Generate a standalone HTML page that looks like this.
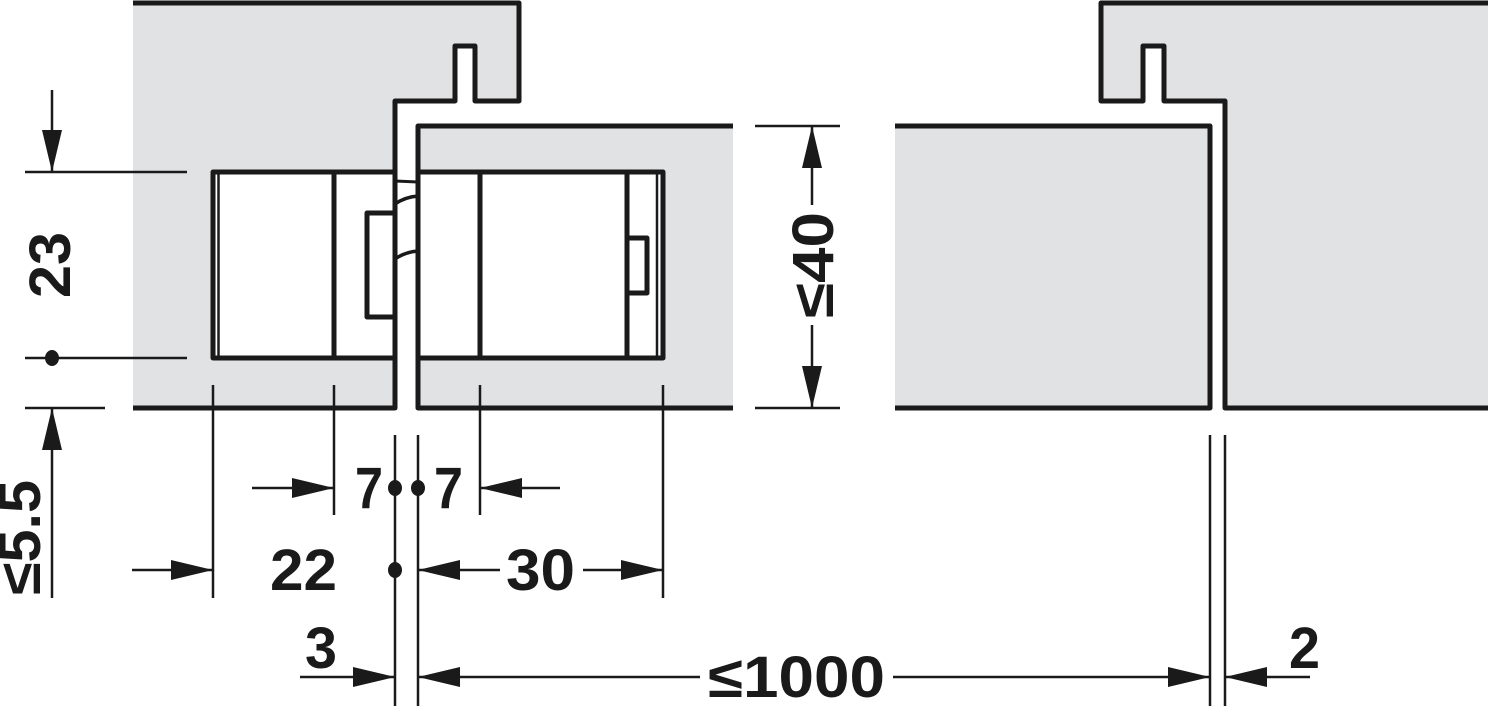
<!DOCTYPE html>
<html><head><meta charset="utf-8"><style>
html,body{margin:0;padding:0;background:#fff;}
svg{display:block;}
text{font-family:"Liberation Sans",sans-serif;font-size:58px;font-weight:bold;fill:#1a1a1a;}
</style></head><body>
<svg width="1488" height="706" viewBox="0 0 1488 706" xmlns="http://www.w3.org/2000/svg">
<defs>
<marker id="a" viewBox="0 0 42 22" refX="42" refY="11" markerWidth="42" markerHeight="22" markerUnits="userSpaceOnUse" orient="auto">
<path d="M0,1 L42,11 L0,21 Z" fill="#1a1a1a"/></marker>
</defs>
<g fill="#e1e2e4" stroke="none">
<path d="M133,3 H519 V101 H475 V46 H455 V101 H395 V408 H133 Z"/>
<rect x="418" y="126" width="315" height="282"/>
<rect x="895" y="126" width="315" height="282"/>
<path d="M1101,3 H1488 V408 H1225 V101 H1164 V46 H1143 V101 H1101 Z"/>
</g>
<g fill="none" stroke="#1a1a1a" stroke-width="5" stroke-linejoin="round">
<path d="M133,3 H519 V101 H475 V46 H455 V101 H395 V408 H133"/>
<path d="M733,126 H418 V408 H733"/>
<path d="M895,126 H1210 V408 H895"/>
<path d="M1488,3 H1101 V101 H1143 V46 H1164 V101 H1225 V408 H1488"/>
</g>
<g stroke="#1a1a1a" stroke-width="5" fill="#fff" stroke-linejoin="round">
<rect x="213" y="172" width="182" height="186"/>
<rect x="418" y="172" width="245" height="186"/>
<rect x="367" y="213" width="28" height="104"/>
<rect x="627" y="238" width="20" height="55"/>
</g>
<g stroke="#1a1a1a" stroke-width="5" fill="none">
<line x1="334" y1="172" x2="334" y2="358"/>
<line x1="480" y1="172" x2="480" y2="358"/>
<line x1="627" y1="172" x2="627" y2="358"/>
<line x1="218.5" y1="172" x2="218.5" y2="358" stroke-width="2.5"/>
<line x1="657" y1="172" x2="657" y2="358" stroke-width="2.5"/>
<line x1="395" y1="181" x2="418" y2="182" stroke-width="3"/>
<path d="M395,204 Q405,197 418,196" stroke-width="3.5"/>
<path d="M395,259 Q405,252 418,251" stroke-width="3.5"/>
</g>
<g stroke="#1a1a1a" stroke-width="2.5" fill="none">
<line x1="25" y1="172" x2="187" y2="172"/>
<line x1="25" y1="358" x2="187" y2="358"/>
<line x1="25" y1="408" x2="105" y2="408"/>
<line x1="52" y1="90" x2="52" y2="172" marker-end="url(#a)"/>
<line x1="52" y1="598" x2="52" y2="408" marker-end="url(#a)"/>
<line x1="755" y1="126" x2="840" y2="126"/>
<line x1="755" y1="408" x2="840" y2="408"/>
<line x1="812" y1="205" x2="812" y2="126" marker-end="url(#a)"/>
<line x1="812" y1="325" x2="812" y2="408" marker-end="url(#a)"/>
<line x1="213" y1="385" x2="213" y2="598"/>
<line x1="334" y1="385" x2="334" y2="515"/>
<line x1="480" y1="385" x2="480" y2="515"/>
<line x1="663" y1="385" x2="663" y2="598"/>
<line x1="395" y1="435" x2="395" y2="706"/>
<line x1="418" y1="435" x2="418" y2="706"/>
<line x1="1210" y1="435" x2="1210" y2="706"/>
<line x1="1225" y1="435" x2="1225" y2="706"/>
<line x1="252" y1="488" x2="334" y2="488" marker-end="url(#a)"/>
<line x1="560" y1="488" x2="480" y2="488" marker-end="url(#a)"/>
<line x1="132" y1="570" x2="213" y2="570" marker-end="url(#a)"/>
<line x1="500" y1="570" x2="418" y2="570" marker-end="url(#a)"/>
<line x1="583" y1="570" x2="663" y2="570" marker-end="url(#a)"/>
<line x1="300" y1="677" x2="395" y2="677" marker-end="url(#a)"/>
<line x1="700" y1="677" x2="418" y2="677" marker-end="url(#a)"/>
<line x1="893" y1="677" x2="1210" y2="677" marker-end="url(#a)"/>
<line x1="1310" y1="677" x2="1225" y2="677" marker-end="url(#a)"/>
</g>
<g fill="#1a1a1a">
<ellipse cx="52" cy="358" rx="7" ry="8"/>
<ellipse cx="395" cy="488" rx="7" ry="8"/>
<ellipse cx="418" cy="488" rx="7" ry="8"/>
<ellipse cx="395" cy="570" rx="7" ry="8"/>
</g>
<text x="355" y="508" textLength="28" lengthAdjust="spacingAndGlyphs">7</text>
<text x="434" y="508" textLength="29" lengthAdjust="spacingAndGlyphs">7</text>
<text x="270" y="590" textLength="67" lengthAdjust="spacingAndGlyphs">22</text>
<text x="506" y="590" textLength="69" lengthAdjust="spacingAndGlyphs">30</text>
<text x="305" y="668" textLength="32" lengthAdjust="spacingAndGlyphs">3</text>
<text x="1289" y="668" textLength="31" lengthAdjust="spacingAndGlyphs">2</text>
<text x="708" y="697" textLength="177" lengthAdjust="spacingAndGlyphs">≤1000</text>
<text transform="translate(70,298) rotate(-90)" textLength="66" lengthAdjust="spacingAndGlyphs">23</text>
<text transform="translate(40,595) rotate(-90)" textLength="115" lengthAdjust="spacingAndGlyphs">≤5.5</text>
<text transform="translate(833,318) rotate(-90)" textLength="106" lengthAdjust="spacingAndGlyphs">≤40</text>
</svg>
</body></html>
